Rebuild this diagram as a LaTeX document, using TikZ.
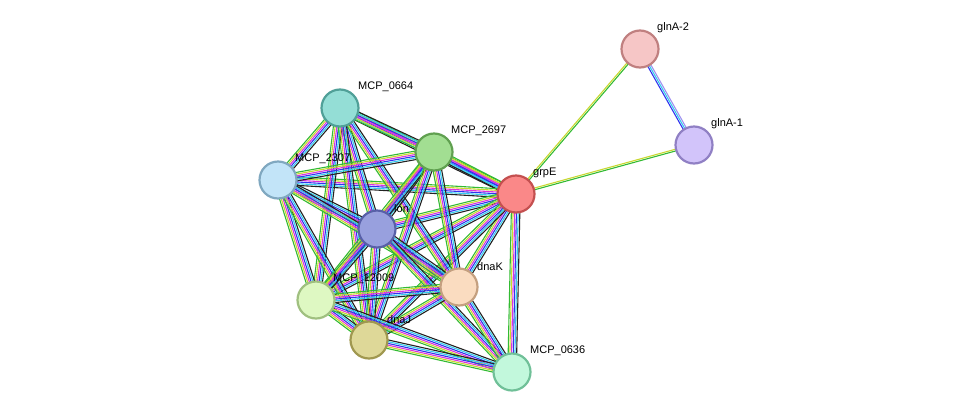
\documentclass[tikz,border=0pt]{standalone}
\usepackage{fontspec}
\setmainfont{Liberation Sans}
\usetikzlibrary{calc}
\definecolor{eg}{HTML}{33BB33}\definecolor{ey}{HTML}{C8D830}\definecolor{em}{HTML}{DD33DD}
\definecolor{eb}{HTML}{3333EE}\definecolor{ec}{HTML}{33CCEE}\definecolor{ek}{HTML}{222222}\definecolor{ep}{HTML}{A090F0}
\newcommand\edg[4]{% a b n colors
  \foreach \c [count=\i] in {#4}{\pgfmathsetmacro\o{(\i-(#3+1)/2)*1.7}
    \draw[\c,line width=1.1pt] ($(#1)!\o pt!90:(#2)$) -- ($(#2)!\o pt!-90:(#1)$);}}
\begin{document}
\begin{tikzpicture}[x=1pt,y=-1pt,
  nd/.style={circle,minimum size=37pt,line width=2.2pt,inner sep=0pt},
  lb/.style={font=\fontsize{11}{13}\selectfont,anchor=south west,inner sep=1pt}]
\useasboundingbox (0,0) rectangle (976,418);
\coordinate (gA2) at (640,49); \coordinate (gA1) at (694,145);
\coordinate (grpE) at (516,194); \coordinate (m0664) at (340,108);
\coordinate (m2697) at (434,152); \coordinate (m2307) at (278,180);
\coordinate (lon) at (377,229); \coordinate (dnaK) at (459,287);
\coordinate (m12009) at (316,300); \coordinate (dnaJ) at (369,340);
\coordinate (m0636) at (512,372);
\edg{grpE}{gA2}{2}{eg,ey}
\edg{grpE}{gA1}{2}{eg,ey}
\edg{gA2}{gA1}{3}{eb,ec,ep}
\foreach \a/\b in {grpE/m0664,grpE/m2697,grpE/m2307,grpE/lon,grpE/dnaK,grpE/m12009,grpE/dnaJ,grpE/m0636,
  m0664/m2697,m0664/m2307,m0664/lon,m0664/dnaK,m0664/m12009,m0664/dnaJ,
  m2697/m2307,m2697/lon,m2697/dnaK,m2697/m12009,m2697/dnaJ,
  m2307/lon,m2307/dnaK,m2307/m12009,m2307/dnaJ,
  lon/dnaK,lon/m12009,lon/dnaJ,lon/m0636,
  dnaK/m12009,dnaK/dnaJ,dnaK/m0636,m12009/dnaJ,m12009/m0636,dnaJ/m0636}
  {\edg{\a}{\b}{6}{eg,ey,em,eb,ec,ek}}
\node[nd,fill={rgb,255:red,246;green,198;blue,198},draw={rgb,255:red,192;green,128;blue,128}] (n1) at (gA2) {};
\node[nd,fill={rgb,255:red,210;green,196;blue,250},draw={rgb,255:red,144;green,128;blue,196}] (n2) at (gA1) {};
\node[nd,fill={rgb,255:red,250;green,136;blue,136},draw={rgb,255:red,196;green,80;blue,80}] (n3) at (grpE) {};
\node[nd,fill={rgb,255:red,148;green,222;blue,214},draw={rgb,255:red,80;green,160;blue,152}] (n4) at (m0664) {};
\node[nd,fill={rgb,255:red,162;green,222;blue,146},draw={rgb,255:red,96;green,160;blue,80}] (n5) at (m2697) {};
\node[nd,fill={rgb,255:red,194;green,228;blue,248},draw={rgb,255:red,128;green,168;blue,192}] (n6) at (m2307) {};
\node[nd,fill={rgb,255:red,152;green,160;blue,222},draw={rgb,255:red,88;green,96;blue,168}] (n7) at (lon) {};
\node[nd,fill={rgb,255:red,250;green,220;blue,192},draw={rgb,255:red,196;green,160;blue,128}] (n8) at (dnaK) {};
\node[nd,fill={rgb,255:red,222;green,248;blue,194},draw={rgb,255:red,160;green,192;blue,128}] (n9) at (m12009) {};
\node[nd,fill={rgb,255:red,222;green,216;blue,152},draw={rgb,255:red,160;green,152;blue,80}] (n10) at (dnaJ) {};
\node[nd,fill={rgb,255:red,194;green,248;blue,220},draw={rgb,255:red,112;green,192;blue,152}] (n11) at (m0636) {};
\node[lb] at (656,34) {glnA-2};
\node[lb] at (710,130) {glnA-1};
\node[lb] at (532,179) {grpE};
\node[lb] at (357,93) {MCP\_0664};
\node[lb] at (450,137) {MCP\_2697};
\node[lb] at (294,165) {MCP\_2307};
\node[lb] at (393,214) {lon};
\node[lb] at (476,272) {dnaK};
\node[lb] at (332,285) {MCP\_12009};
\node[lb] at (386,325) {dnaJ};
\node[lb] at (529,357) {MCP\_0636};
\end{tikzpicture}
\end{document}
